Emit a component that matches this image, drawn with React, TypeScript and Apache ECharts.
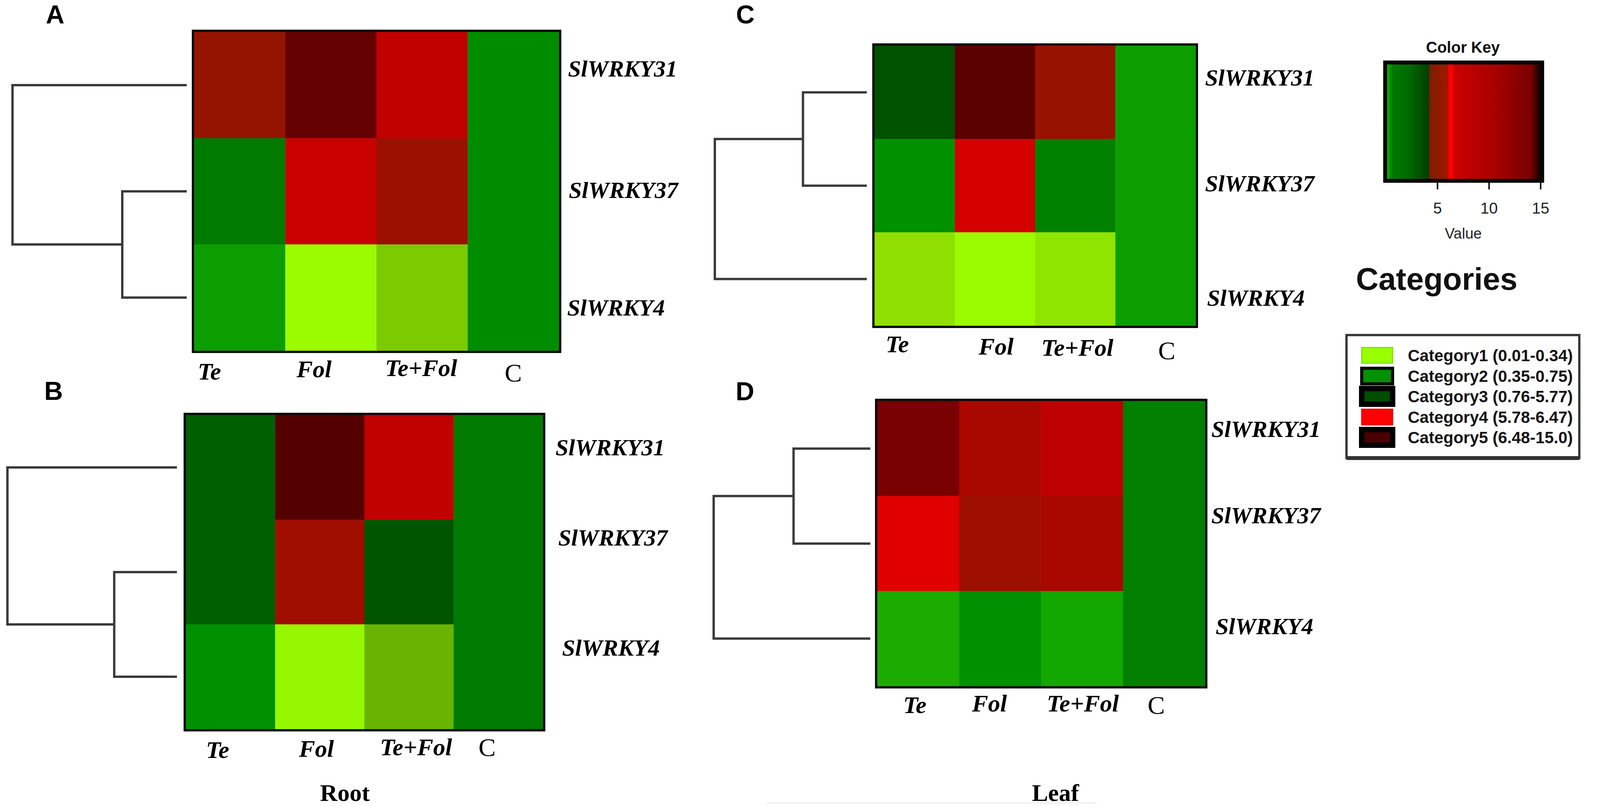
import React, { useEffect, useRef } from "react";
import * as echarts from "echarts";

// ---------------- data ----------------
const treatments = ["Te", "Fol", "Te+Fol", "C"];
const genes = ["SlWRKY31", "SlWRKY37", "SlWRKY4"];

// expression values, rows = genes, cols = treatments
const rootA = [
  [9.5, 13, 6.42, 1.0],
  [2.0, 6.3, 8.5, 1.0],
  [0.58, 0.05, 0.27, 1.0],
];
const rootB = [
  [3.5, 14.5, 6.42, 2.0],
  [3.5, 8.0, 4.5, 2.0],
  [0.9, 0.1, 0.34, 2.0],
];
const leafC = [
  [5.0, 14, 9.0, 0.58],
  [0.9, 6.15, 1.5, 0.58],
  [0.2, 0.05, 0.18, 0.58],
];
const leafD = [
  [11, 7, 6.45, 1.6],
  [6.0, 8.3, 7, 1.6],
  [0.4, 0.9, 0.5, 1.6],
];

// dendrogram merges: [childA, childB, height]; leaves 0..2, merge k -> node 3+k
const dendroA = [[1, 2, 0.37], [0, 3, 1]];
const dendroB = [[1, 2, 0.37], [0, 3, 1]];
const dendroC = [[0, 1, 0.42], [3, 2, 1]];
const dendroD = [[0, 1, 0.49], [3, 2, 1]];

const panelLetters = ["A", "B", "C", "D"];
const tissueLabels = ["Root", "Leaf"];
const keyTicks = [5, 10, 15];
const legendLabels = [
  "Category1 (0.01-0.34)",
  "Category2 (0.35-0.75)",
  "Category3 (0.76-5.77)",
  "Category4 (5.78-6.47)",
  "Category5 (6.48-15.0)",
];

// ---------------- styles / layout ----------------
const colorScale: [number, string][] = [
  [0, "#a0ff00"],
  [0.1, "#96f800"],
  [0.2, "#8fe000"],
  [0.34, "#68b400"],
  [0.35, "#1db000"],
  [0.5, "#13a800"],
  [0.6, "#0a9c00"],
  [0.9, "#009000"],
  [1.0, "#008c00"],
  [1.6, "#007f00"],
  [2.0, "#007a00"],
  [3.5, "#005f00"],
  [4.5, "#005500"],
  [5.77, "#004a00"],
  [5.78, "#ff0000"],
  [6.0, "#e00000"],
  [6.2, "#d20000"],
  [6.47, "#bd0000"],
  [6.48, "#b00400"],
  [7, "#a80800"],
  [8, "#a00e00"],
  [8.5, "#9c1000"],
  [9.5, "#941400"],
  [11, "#780000"],
  [13, "#650000"],
  [14, "#5a0000"],
  [15, "#500000"],
];
const legendSwatches = [
  { fill: "#99ff00", stroke: "#7be000", lw: 3 },
  { fill: "#009000", stroke: "#0a0a0a", lw: 8 },
  { fill: "#004d00", stroke: "#000000", lw: 14 },
  { fill: "#ff0000", stroke: "#e80000", lw: 3 },
  { fill: "#4a0000", stroke: "#000000", lw: 14 },
];

const panels = [
  {
    values: rootA, dendro: dendroA,
    heat: { left: 497, top: 82, width: 934, height: 816 },
    dendroGrid: { left: 32, width: 446 },
    letter: { x: 141, y: 4 },
    rowLabels: [[1454, 172], [1456, 483], [1452, 784]],
    colLabels: [[536, 947], [804, 941], [1078, 938], [1314, 950]],
  },
  {
    values: rootB, dendro: dendroB,
    heat: { left: 476, top: 1063, width: 914, height: 804 },
    dendroGrid: { left: 19, width: 434 },
    letter: { x: 137, y: 968 },
    rowLabels: [[1422, 1142], [1429, 1373], [1439, 1655]],
    colLabels: [[557, 1916], [810, 1913], [1065, 1909], [1247, 1909]],
  },
  {
    values: leafC, dendro: dendroC,
    heat: { left: 2239, top: 117, width: 822, height: 717 },
    dendroGrid: { left: 1830, width: 389 },
    letter: { x: 1908, y: 4 },
    rowLabels: [[3085, 195], [3085, 466], [3090, 759]],
    colLabels: [[2297, 877], [2550, 883], [2758, 886], [2987, 893]],
  },
  {
    values: leafD, dendro: dendroD,
    heat: { left: 2246, top: 1027, width: 839, height: 730 },
    dendroGrid: { left: 1827, width: 401 },
    letter: { x: 1907, y: 969 },
    rowLabels: [[3101, 1095], [3101, 1316], [3112, 1600]],
    colLabels: [[2342, 1801], [2533, 1797], [2772, 1797], [2960, 1801]],
  },
];

const SERIF = '"Liberation Serif", "Times New Roman", serif';
const SANS = '"Liberation Sans", Arial, sans-serif';

function hexToRgb(h: string) {
  const n = parseInt(h.slice(1), 16);
  return [(n >> 16) & 255, (n >> 8) & 255, n & 255];
}
function rgbToHex(r: number[]) {
  return "#" + r.map((v) => Math.round(v).toString(16).padStart(2, "0")).join("");
}
function colorAt(v: number) {
  if (v <= colorScale[0][0]) return colorScale[0][1];
  for (let i = 1; i < colorScale.length; i++) {
    const [v1, c1] = colorScale[i];
    const [v0, c0] = colorScale[i - 1];
    if (v <= v1) {
      const t = (v - v0) / (v1 - v0);
      const a = hexToRgb(c0), b = hexToRgb(c1);
      return rgbToHex(a.map((x, k) => x + (b[k] - x) * t));
    }
  }
  return colorScale[colorScale.length - 1][1];
}
const sampledColors: string[] = [];
for (let i = 0; i <= 1500; i++) sampledColors.push(colorAt(i / 100));

function dendroSegments(merges: number[][]) {
  const nodes: { y: number; h: number }[] = [0, 1, 2].map((i) => ({ y: i, h: 0 }));
  const segs: number[][][] = [];
  merges.forEach(([a, b, h]) => {
    const na = nodes[a], nb = nodes[b];
    segs.push([[na.h, na.y], [h, na.y], [h, nb.y], [nb.h, nb.y]]);
    nodes.push({ y: (na.y + nb.y) / 2, h });
  });
  return segs;
}

function buildOption() {
  const grids: any[] = [];
  const xAxes: any[] = [];
  const yAxes: any[] = [];
  const series: any[] = [];
  const graphics: any[] = [];

  panels.forEach((p, i) => {
    grids.push({
      ...p.heat, show: true, borderWidth: 12, borderColor: "#070707",
      backgroundColor: "transparent",
    });
    xAxes.push({ type: "category", gridIndex: i, data: treatments, show: false });
    yAxes.push({ type: "category", gridIndex: i, data: genes, inverse: true, show: false });
    const data: number[][] = [];
    p.values.forEach((row, r) => row.forEach((v, c) => data.push([c, r, v])));
    series.push({
      type: "heatmap", xAxisIndex: i, yAxisIndex: i, data,
      itemStyle: { borderWidth: 0 }, emphasis: { disabled: true }, silent: true,
    });
  });
  panels.forEach((p, i) => {
    const gi = 4 + i;
    grids.push({ left: p.dendroGrid.left, width: p.dendroGrid.width, top: p.heat.top, height: p.heat.height, show: false });
    xAxes.push({ type: "value", gridIndex: gi, min: 0, max: 1, inverse: true, show: false });
    yAxes.push({ type: "value", gridIndex: gi, min: -0.5, max: 2.5, inverse: true, show: false });
    series.push({
      type: "lines", coordinateSystem: "cartesian2d", xAxisIndex: gi, yAxisIndex: gi,
      polyline: true, silent: true,
      lineStyle: { color: "#3a3a3a", width: 6, opacity: 1, curveness: 0 },
      data: dendroSegments(p.dendro).map((c) => ({ coords: c })),
    });
  });
  // colour key axis
  grids.push({ left: 3548, top: 160, width: 396, height: 303, show: false });
  xAxes.push({
    type: "value", gridIndex: 8, min: 0, max: 15, interval: 5,
    axisLine: { show: false }, splitLine: { show: false },
    axisTick: { show: true, customValues: keyTicks, length: 22, lineStyle: { color: "#111", width: 4 } },
    axisLabel: { customValues: keyTicks, fontSize: 40, color: "#222", margin: 50, fontFamily: SANS },
    name: "Value", nameLocation: "middle", nameGap: 116,
    nameTextStyle: { fontSize: 38, color: "#222", fontFamily: SANS },
  });
  yAxes.push({ type: "value", gridIndex: 8, min: 0, max: 1, show: false });

  // key gradient box
  graphics.push({
    type: "rect", shape: { x: 3546, y: 160, width: 402, height: 303 }, z: 1,
    style: {
      fill: new echarts.graphic.LinearGradient(0, 0, 1, 0, [
        { offset: 0, color: "#30c800" },
        { offset: 0.02, color: "#10a000" },
        { offset: 0.05, color: "#007800" },
        { offset: 0.15, color: "#006a00" },
        { offset: 0.275, color: "#004000" },
        { offset: 0.285, color: "#7e1e00" },
        { offset: 0.4, color: "#a01600" },
        { offset: 0.405, color: "#ff0000" },
        { offset: 0.425, color: "#ff0000" },
        { offset: 0.44, color: "#cc0000" },
        { offset: 0.7, color: "#a80000" },
        { offset: 0.93, color: "#780000" },
        { offset: 0.97, color: "#300000" },
        { offset: 1, color: "#000000" },
      ]),
      stroke: "#050505", lineWidth: 10,
    },
  });
  graphics.push({
    type: "text", x: 3745, y: 121,
    style: { text: "Color Key", fontSize: 40, fontWeight: "bold", fontFamily: SANS, fill: "#111", align: "center", verticalAlign: "middle" },
  });
  graphics.push({
    type: "text", x: 3678, y: 714,
    style: { text: "Categories", fontSize: 80, fontWeight: "bold", fontFamily: SANS, fill: "#111", align: "center", verticalAlign: "middle" },
  });
  // legend box
  graphics.push({ type: "rect", shape: { x: 3447, y: 858, width: 596, height: 315 }, style: { fill: "#fff", stroke: "#3a3a3a", lineWidth: 6 } });
  graphics.push({ type: "line", shape: { x1: 3447, y1: 1173, x2: 4043, y2: 1173 }, style: { stroke: "#333", lineWidth: 10 } });
  const legendY = [910, 963, 1015, 1068, 1120];
  legendLabels.forEach((t, k) => {
    const s = legendSwatches[k];
    graphics.push({ type: "rect", shape: { x: 3486, y: legendY[k] - 20, width: 79, height: 40 }, style: { fill: s.fill, stroke: s.stroke, lineWidth: s.lw } });
    graphics.push({
      type: "text", x: 3604, y: legendY[k],
      style: { text: t, fontSize: 42, fontWeight: "bold", fontFamily: SANS, fill: "#151515", align: "left", verticalAlign: "middle" },
    });
  });

  // panel texts
  panels.forEach((p, i) => {
    graphics.push({
      type: "text", x: p.letter.x, y: p.letter.y,
      style: { text: panelLetters[i], fontSize: 66, fontWeight: "bold", fontFamily: SANS, fill: "#000", align: "center", verticalAlign: "top" },
    });
    genes.forEach((g, r) => {
      graphics.push({
        type: "text", x: p.rowLabels[r][0], y: p.rowLabels[r][1] + 4,
        style: { text: g, fontSize: 60, fontWeight: "bold", fontStyle: "italic", fontFamily: SERIF, fill: "#000", align: "left", verticalAlign: "middle" },
      });
    });
    treatments.forEach((t, c) => {
      const isCtrl = t === "C";
      graphics.push({
        type: "text", x: p.colLabels[c][0], y: p.colLabels[c][1] + 4,
        style: {
          text: t, fontSize: isCtrl ? 66 : 62, fontWeight: isCtrl ? "normal" : "bold",
          fontStyle: isCtrl ? "normal" : "italic", fontFamily: SERIF, fill: "#000", align: "center", verticalAlign: "middle",
        },
      });
    });
  });
  graphics.push({
    type: "text", x: 883, y: 2061,
    style: { text: tissueLabels[0], fontSize: 62, fontWeight: "bold", fontFamily: SERIF, fill: "#000", align: "center", verticalAlign: "bottom" },
  });
  graphics.push({
    type: "text", x: 2702, y: 2061,
    style: { text: tissueLabels[1], fontSize: 62, fontWeight: "bold", fontFamily: SERIF, fill: "#000", align: "center", verticalAlign: "bottom" },
  });
  graphics.push({ type: "line", shape: { x1: 1962, y1: 2056, x2: 2807, y2: 2056 }, z: -1, style: { stroke: "#ededed", lineWidth: 3 } });

  return {
    animation: false,
    backgroundColor: "#ffffff",
    grid: grids,
    xAxis: xAxes,
    yAxis: yAxes,
    visualMap: {
      type: "continuous", min: 0, max: 15, show: false, seriesIndex: [0, 1, 2, 3], dimension: 2,
      inRange: { color: sampledColors },
    },
    series,
    graphic: { elements: graphics },
  };
}

export default function App() {
  const ref = useRef<HTMLDivElement>(null);
  useEffect(() => {
    if (!ref.current) return;
    const chart = echarts.init(ref.current, undefined, { renderer: "svg" });
    chart.setOption(buildOption() as any);
    return () => chart.dispose();
  }, []);
  return (
    <div
      ref={ref}
      style={{ position: "fixed", left: 0, top: 0, width: 4105, height: 2064, background: "#fff" }}
    />
  );
}
